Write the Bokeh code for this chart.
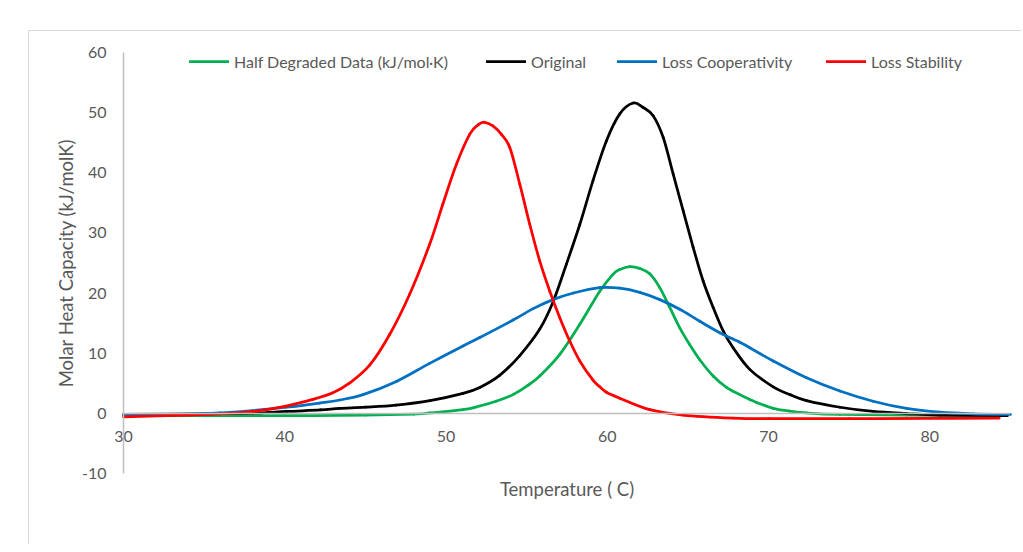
from bokeh.plotting import figure
from bokeh.models import Range1d, Legend, LegendItem, FixedTicker
from bokeh.embed import file_html
from bokeh.resources import INLINE

# ---- data ----
orig_t = [30, 35, 38, 40.1, 42.2, 43.4, 45, 46.9, 49, 51.05, 52.09, 53.32, 54.57, 55.81,
          56.63, 57.46, 58.29, 59.11, 59.94, 60.77, 61.6, 62.2, 62.84, 63.46, 64.08, 64.7, 65.32,
          65.94, 66.56, 67.18, 67.8, 68.83, 70.28, 71.32, 72.35, 74.42, 76.48,
          78.55, 80.62, 84.8]
orig_v = [-0.2, -0.1, 0.0, 0.3, 0.55, 0.8, 1.0, 1.35, 2.1, 3.3, 4.3, 6.3, 9.6, 14.0,
          18.5, 24.8, 31.4, 38.7, 45.3, 49.8, 51.6, 50.9, 49.5, 45.9, 39.8, 33.7, 27.6,
          22.0, 17.6, 13.7, 10.9, 7.3, 4.4, 3.1, 2.1, 1.0, 0.3,
          -0.05, -0.3, -0.4]

half_t = [30, 35, 40, 45, 48, 49, 51.05, 52.09, 53.1, 54.15, 55.0, 55.81, 57.05, 58.29, 59.53,
          60.35, 60.77, 61.39, 62.0, 62.63, 63.25, 63.87, 64.49, 65.11, 65.73, 66.56, 67.39,
          68.21, 68.83, 69.25, 70.28, 71.3, 72.35, 74.42, 78.55, 84.8]
half_v = [-0.4, -0.4, -0.4, -0.3, -0.15, 0.05, 0.6, 1.2, 2.0, 3.1, 4.5, 6.2, 9.8, 14.8, 20.3,
          23.1, 23.9, 24.4, 24.1, 23.2, 20.9, 17.6, 14.2, 11.4, 8.9, 6.2, 4.3,
          3.1, 2.3, 1.8, 0.8, 0.35, 0.05, -0.2, -0.3, -0.4]

coop_t = [30, 33, 35.96, 38.02, 40.09, 42.16, 43.4, 44.85, 46.92, 48.98, 51.05, 52.09, 54.15,
          55.4, 56.63, 57.9, 59.53, 60.77, 62.01, 63.25, 64.49, 65.73, 66.97, 68.21, 68.83,
          70.28, 72.35, 74.42, 76.48, 78.55, 80.62, 82.69, 85]
coop_v = [-0.3, -0.2, 0.05, 0.45, 1.0, 1.7, 2.2, 3.1, 5.3, 8.3, 11.2, 12.6, 15.5,
          17.4, 18.9, 20.0, 20.9, 20.8, 20.1, 18.9, 17.3, 15.3, 13.4, 11.8, 10.9,
          8.7, 5.9, 3.7, 2.0, 0.8, 0.17, -0.1, -0.2]

stab_t = [30, 33.9, 35.96, 38.02, 40.09, 41.74, 42.98, 44.0, 45.26, 46.5, 47.74, 48.98, 49.8,
          50.64, 51.46, 52.0, 52.39, 52.9, 53.43, 53.95, 54.57, 55.19, 55.81, 56.43, 57.05,
          57.67, 58.29, 59.11, 59.53, 59.94, 60.77, 62.63, 64.7, 67.8, 70, 75, 80, 84.3]
stab_v = [-0.6, -0.3, -0.1, 0.3, 1.2, 2.3, 3.4, 5.0, 8.0, 13.1, 19.8, 28.1, 34.8,
          41.4, 46.4, 48.0, 48.4, 47.8, 46.4, 44.2, 38.1, 31.4, 25.3, 20.3, 15.9,
          12.0, 8.7, 5.5, 4.4, 3.5, 2.5, 0.6, -0.3, -0.8, -0.9, -0.9, -0.85, -0.8]

x_ticks = [30, 40, 50, 60, 70, 80]
y_ticks = [-10, 0, 10, 20, 30, 40, 50, 60]
x_bounds = (30, 85)
y_bounds = (-10, 60)

series = [
    ("Half Degraded Data (kJ/mol\u00b7K)", half_t, half_v, "#00B050"),
    ("Original", orig_t, orig_v, "#000000"),
    ("Loss Cooperativity", coop_t, coop_v, "#0070C0"),
    ("Loss Stability", stab_t, stab_v, "#FF0000"),
]

FONT = "Lato"
TXT = "#595959"
AX = "#BFBFBF"
TICK_FS = "16px"
TITLE_FS = "18.5px"

# ---- layout (page pixels) ----
W, H = 993, 514
MB = 5                       # small border around the frame
FRAME_L, FRAME_T = 30 + MB, 31 + MB
FRAME_W, FRAME_H = W - 2 * MB - 1, H - 2 * MB - 1
AX_L, AX_R, AX_T, AX_B = 124, 1010, 52, 472   # where the axis box sits on the page
sx = (AX_R - AX_L) / (x_bounds[1] - x_bounds[0])
sy = (AX_B - AX_T) / (y_bounds[1] - y_bounds[0])
x0 = x_bounds[0] - (AX_L - FRAME_L) / sx
x1 = x0 + FRAME_W / sx
y1 = y_bounds[1] + (AX_T - FRAME_T) / sy
y0 = y1 - FRAME_H / sy

p = figure(width=W, height=H, output_backend="svg", toolbar_location=None,
           x_range=Range1d(x0, x1), y_range=Range1d(y0, y1),
           min_border_left=MB, min_border_right=MB, min_border_top=MB, min_border_bottom=MB)
p.margin = (30, 0, 0, 28)
p.styles = {"border-top": "1px solid #D9D9D9", "border-left": "1px solid #D9D9D9"}
p.outline_line_color = None
p.grid.visible = False
p.background_fill_color = "white"
p.border_fill_color = "white"


def smooth_segments(t, v):
    """Cubic Bezier pieces through the read points (Excel-style smoothed line)."""
    n = len(t)
    segs = {k: [] for k in ("x0", "y0", "x1", "y1", "cx0", "cy0", "cx1", "cy1")}
    for i in range(n - 1):
        a = max(i - 1, 0)
        b = min(i + 2, n - 1)
        segs["x0"].append(t[i]); segs["y0"].append(v[i])
        segs["x1"].append(t[i + 1]); segs["y1"].append(v[i + 1])
        segs["cx0"].append(t[i] + (t[i + 1] - t[a]) / 6)
        segs["cy0"].append(v[i] + (v[i + 1] - v[a]) / 6)
        segs["cx1"].append(t[i + 1] - (t[b] - t[i]) / 6)
        segs["cy1"].append(v[i + 1] - (v[b] - v[i]) / 6)
    return segs


renderers = []
for name, t, v, c in series:
    s = smooth_segments(t, v)
    r = p.bezier(x0="x0", y0="y0", x1="x1", y1="y1", cx0="cx0", cy0="cy0",
                 cx1="cx1", cy1="cy1", source=s, line_color=c, line_width=2.75,
                 line_cap="round")
    renderers.append(r)

xa = p.xaxis[0]
xa.fixed_location = 0
xa.bounds = x_bounds
xa.ticker = FixedTicker(ticks=x_ticks)
xa.axis_line_color = AX
xa.axis_line_width = 1.5
xa.major_tick_line_color = None
xa.minor_tick_line_color = None
xa.major_label_standoff = 12
xa.major_label_text_font = FONT
xa.major_label_text_font_size = TICK_FS
xa.major_label_text_color = TXT
xa.axis_label = "Temperature ( C)"
xa.axis_label_text_font = FONT
xa.axis_label_text_font_size = TITLE_FS
xa.axis_label_text_font_style = "normal"
xa.axis_label_text_color = TXT
xa.axis_label_standoff = 32

ya = p.yaxis[0]
ya.fixed_location = 30
ya.bounds = y_bounds
ya.ticker = FixedTicker(ticks=y_ticks)
ya.major_label_overrides = {t: str(t) for t in y_ticks}
ya.axis_line_color = AX
ya.axis_line_width = 1.5
ya.major_tick_line_color = None
ya.minor_tick_line_color = None
ya.major_label_standoff = 11
ya.major_label_text_font = FONT
ya.major_label_text_font_size = TICK_FS
ya.major_label_text_color = TXT
ya.axis_label = "Molar Heat Capacity (kJ/molK)"
ya.axis_label_text_font = FONT
ya.axis_label_text_font_size = TITLE_FS
ya.axis_label_text_font_style = "normal"
ya.axis_label_text_color = TXT
ya.axis_label_standoff = 2

# one legend per entry, placed like the reference
legend_px = [190, 487, 618, 827]
legend_top = 50
for (name, t, v, c), r, lx in zip(series, renderers, legend_px):
    lg = Legend(items=[LegendItem(label=name, renderers=[r])],
                location=(lx - FRAME_L, FRAME_T + FRAME_H - legend_top - 20),
                orientation="horizontal",
                padding=0, margin=0, spacing=0,
                glyph_width=40, glyph_height=20, label_height=20,
                label_standoff=5,
                label_text_font=FONT, label_text_font_size=TICK_FS,
                label_text_color=TXT,
                border_line_color=None, background_fill_alpha=0)
    p.add_layout(lg, "center")

open("out.html", "w").write(file_html(p, INLINE))
